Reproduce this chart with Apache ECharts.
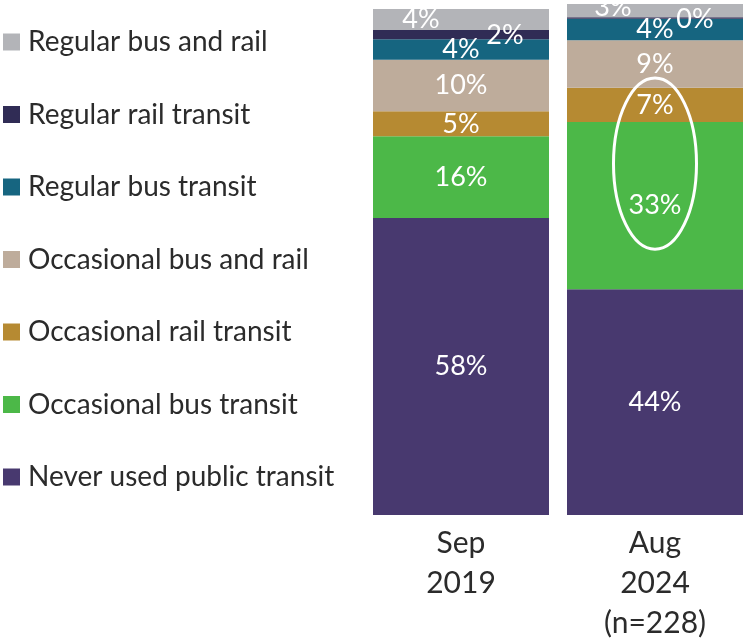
<!DOCTYPE html>
<html>
<head>
<meta charset="utf-8">
<script src="https://cdn.jsdelivr.net/npm/echarts@6/dist/echarts.min.js"></script>
<style>
  html, body { margin: 0; padding: 0; background: #fff; }
  #main { width: 746px; height: 644px; }
</style>
</head>
<body>
<div id="main"></div>
<script>
// categories (x axis)
var periods = ['Sep\n2019', 'Aug\n2024\n(n=228)'];

// series, bottom of the stack first
var neverUsed       = [58.1, 44.2];
var occasionalBus   = [16.0, 32.7];
var occasionalRail  = [4.9, 6.7];
var occasionalBoth  = [10.1, 9.3];
var regularBus      = [4.0, 4.2];
var regularRail     = [1.8, 0.3];
var regularBoth     = [4.1, 2.6];

var seriesNames = [
    'Never used public transit',
    'Occasional bus transit',
    'Occasional rail transit',
    'Occasional bus and rail',
    'Regular bus transit',
    'Regular rail transit',
    'Regular bus and rail'
];
var seriesValues = [neverUsed, occasionalBus, occasionalRail, occasionalBoth, regularBus, regularRail, regularBoth];
var seriesColors = ['#48396F', '#4CB848', '#B68A32', '#BEAC9B', '#166580', '#302C55', '#B3B4B8'];

// label nudges for the thin top segments  [seriesIndex]-[categoryIndex] -> [dx, dy]
var labelNudge = {
    '6-0': [-40, 0],
    '5-0': [44, 1],
    '6-1': [-42, -3],
    '5-1': [40, 1]
};

var FONT = 'Lato, "Open Sans", sans-serif';

var chart = echarts.init(document.getElementById('main'));

var series = seriesNames.map(function (name, si) {
    return {
        name: name,
        type: 'bar',
        stack: 'total',
        barWidth: 176,
        itemStyle: { color: seriesColors[si] },
        label: {
            show: true,
            position: 'inside',
            color: '#fff',
            fontFamily: FONT,
            fontSize: 27,
            formatter: function (p) { return Math.round(p.value) + '%'; }
        },
        data: seriesValues[si].map(function (v, ci) {
            var item = { value: v };
            var n = labelNudge[si + '-' + ci];
            if (n) item.label = { offset: n };
            return item;
        })
    };
});

var option = {
    animation: false,
    legend: {
        orient: 'vertical',
        left: 3,
        top: 27,
        padding: 0,
        itemWidth: 17,
        itemHeight: 17,
        itemGap: 42.5,
        icon: 'rect',
        data: seriesNames.slice().reverse(),
        textStyle: {
            fontFamily: FONT,
            fontSize: 28,
            lineHeight: 30,
            color: '#2b2b2b',
            padding: [0, 0, 0, 3]
        },
        selectedMode: false
    },
    grid: {
        left: 364,
        width: 388,
        top: 4,
        bottom: 129,
        containLabel: false,
        outerBoundsMode: 'none'
    },
    xAxis: {
        type: 'category',
        data: periods,
        axisLine: { show: false },
        axisTick: { show: false },
        axisLabel: {
            fontFamily: FONT,
            fontSize: 30,
            lineHeight: 40,
            color: '#2b2b2b',
            margin: 8
        }
    },
    yAxis: {
        type: 'value',
        min: 0,
        max: 100,
        show: false
    },
    series: series
};

chart.setOption(option);

// white ellipse around the Aug 2024 "occasional bus" segment
var ellipseTop = 85.5, ellipseBottom = 52, ellipseHalfWidth = 41.5;
var topPt = chart.convertToPixel({ gridIndex: 0 }, [1, ellipseTop]);
var botPt = chart.convertToPixel({ gridIndex: 0 }, [1, ellipseBottom]);
chart.setOption({
    graphic: [{
        type: 'ellipse',
        shape: {
            cx: topPt[0],
            cy: (topPt[1] + botPt[1]) / 2,
            rx: ellipseHalfWidth,
            ry: (botPt[1] - topPt[1]) / 2
        },
        style: { fill: null, stroke: '#fff', lineWidth: 3 },
        z: 100
    }]
});
</script>
</body>
</html>
